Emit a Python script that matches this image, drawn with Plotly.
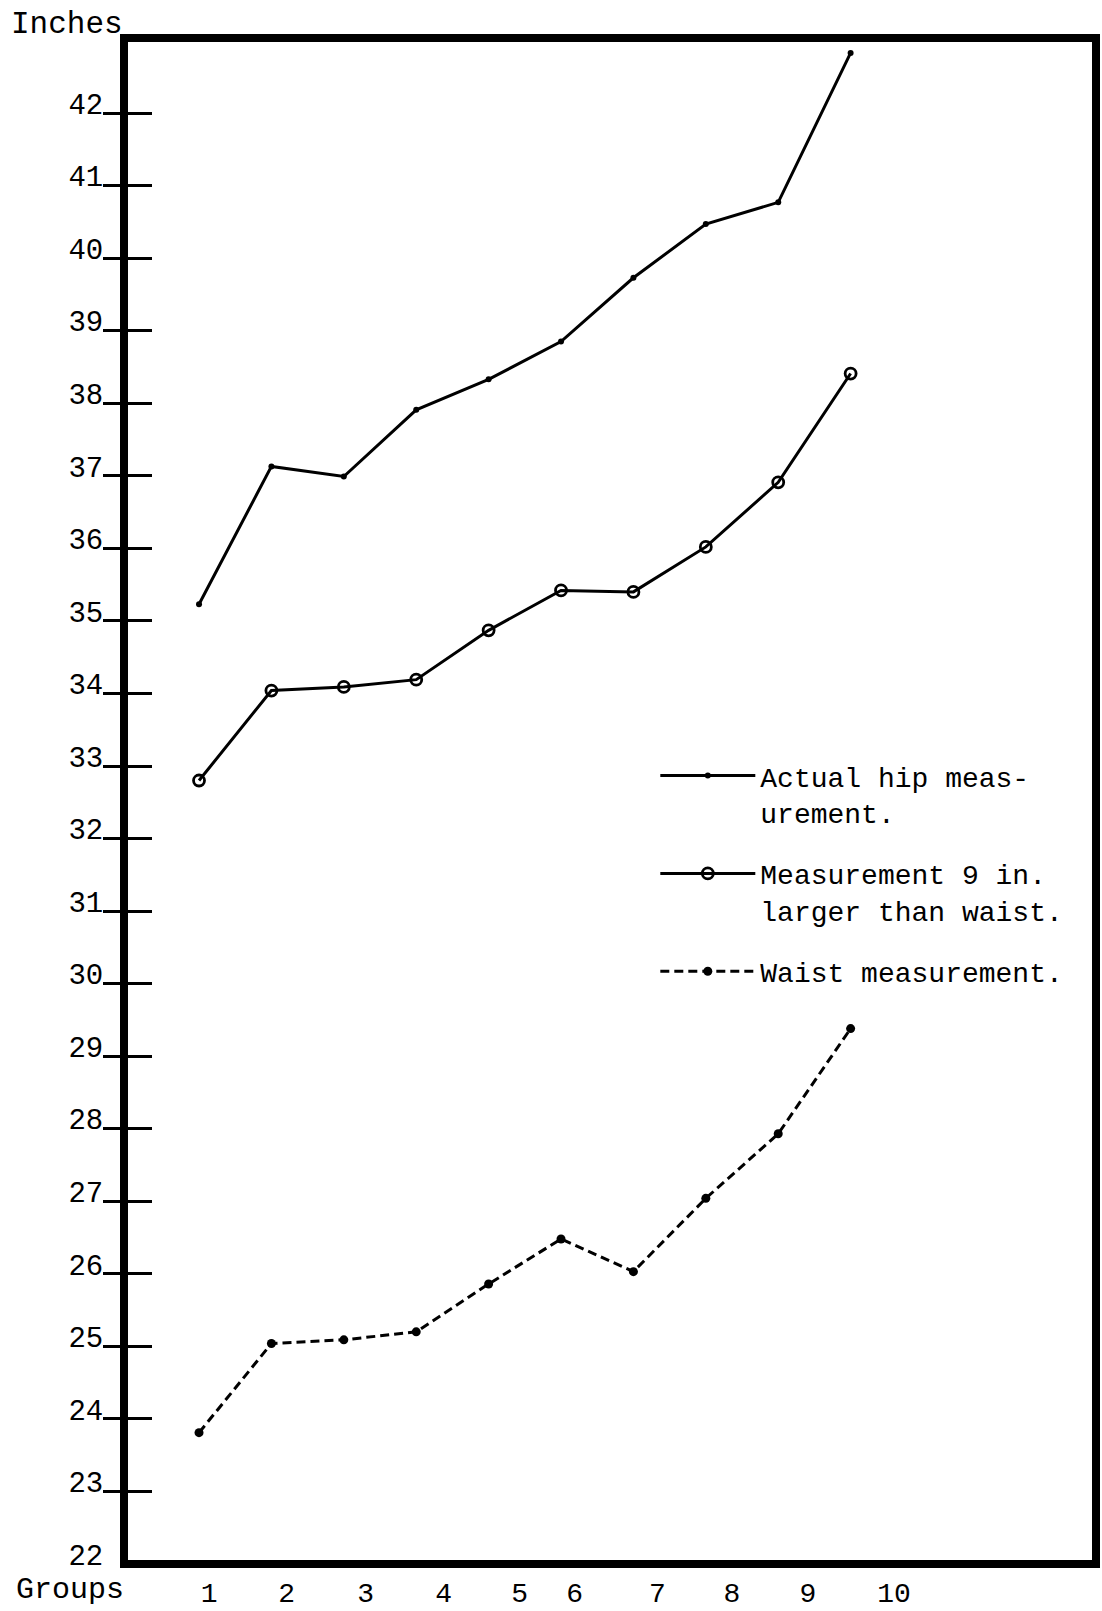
import plotly.graph_objects as go

# ---- data ----
groups = [1, 2, 3, 4, 5, 6, 7, 8, 9, 10]
hip_actual = [35.23, 37.13, 36.99, 37.91, 38.33, 38.85, 39.73, 40.47, 40.77, 42.83]
hip_nine_over_waist = [32.80, 34.04, 34.09, 34.19, 34.87, 35.42, 35.40, 36.02, 36.91, 38.41]
waist = [23.81, 25.04, 25.09, 25.20, 25.86, 26.48, 26.03, 27.04, 27.93, 29.38]

group_tick_labels = ["1", "2", "3", "4", "5", "6", "7", "8", "9", "10"]
# typewritten group numbers sit slightly off the plotted columns
group_tick_positions = [1.14, 2.21, 3.30, 4.38, 5.43, 6.19, 7.33, 8.36, 9.41, 10.60]
inch_ticks = list(range(22, 43))
inch_labels = [str(v) for v in inch_ticks]

names = [
    "Actual hip meas-<br>urement.",
    "Measurement 9 in.<br>larger than waist.",
    "Waist measurement.",
]

FONT = "Liberation Mono"
INK = "black"
LABEL_RAISE = 0.13  # typed numbers sit just above their tick marks

fig = go.Figure()
fig.add_trace(go.Scatter(
    x=groups, y=hip_actual, mode="lines+markers", name=names[0],
    line=dict(color=INK, width=3), marker=dict(size=6, color=INK),
    legendgroup="a"))
fig.add_trace(go.Scatter(
    x=groups, y=hip_nine_over_waist, mode="lines+markers", name=names[1],
    line=dict(color=INK, width=3),
    marker=dict(symbol="circle-open", size=11, color=INK, line=dict(width=2.8, color=INK)),
    legendgroup="b"))
fig.add_trace(go.Scatter(
    x=groups, y=waist, mode="lines+markers", name=names[2],
    line=dict(color=INK, width=3, dash="9px,5px"), marker=dict(size=9, color=INK),
    legendgroup="c"))
# empty helper traces so the tick-only overlay axes are drawn
fig.add_trace(go.Scatter(x=[], y=[], yaxis="y2", showlegend=False, hoverinfo="skip"))
fig.add_trace(go.Scatter(x=[], y=[], yaxis="y3", showlegend=False, hoverinfo="skip"))

yr = [22.055, 42.98]
fig.update_layout(
    width=1102, height=1611, autosize=False,
    margin=dict(l=128, r=10, t=42, b=51, autoexpand=False),
    paper_bgcolor="white", plot_bgcolor="white",
    font=dict(family=FONT, color=INK, size=28),
    showlegend=True,
    legend=dict(
        x=0.547, y=0.533, xanchor="left", yanchor="top",
        bgcolor="rgba(0,0,0,0)", font=dict(family=FONT, size=28, color=INK),
        itemwidth=95, tracegroupgap=22, valign="top",
    ),
    xaxis=dict(
        range=[0.019, 13.334], showgrid=False, zeroline=False, automargin=False,
        showline=True, mirror=True, linewidth=8, linecolor=INK,
        tickmode="array", tickvals=group_tick_positions, ticktext=group_tick_labels,
        ticks="", ticklabelstandoff=0, tickfont=dict(family=FONT, size=28, color=INK),
    ),
    yaxis=dict(
        range=yr, showgrid=False, zeroline=False, automargin=False,
        showline=True, mirror=True, linewidth=8, linecolor=INK,
        tickmode="array", tickvals=[v + LABEL_RAISE for v in inch_ticks],
        ticktext=inch_labels, ticks="", ticklabelstandoff=11,
        tickfont=dict(family=FONT, size=29, color=INK),
    ),
    yaxis2=dict(
        range=yr, overlaying="y", side="left", anchor="x", automargin=False,
        showgrid=False, zeroline=False, showline=False,
        tickmode="array", tickvals=inch_ticks[1:], ticks="outside",
        ticklen=24, tickwidth=3, tickcolor=INK, showticklabels=False,
    ),
    yaxis3=dict(
        range=yr, overlaying="y", side="left", anchor="x", automargin=False,
        showgrid=False, zeroline=False, showline=False,
        tickmode="array", tickvals=inch_ticks[1:], ticks="inside",
        ticklen=24, tickwidth=3, tickcolor=INK, showticklabels=False,
    ),
    annotations=[
        dict(text="Inches", xref="paper", yref="paper", x=0, y=1,
             xanchor="right", yanchor="bottom", xshift=-3, yshift=-2, showarrow=False,
             font=dict(family=FONT, size=31, color=INK)),
        dict(text="Groups", xref="paper", yref="paper", x=0, y=0,
             xanchor="right", yanchor="top", xshift=-2, yshift=-11, showarrow=False,
             font=dict(family=FONT, size=30, color=INK)),
    ],
)

fig.write_html(
    "out.html",
    config={"displayModeBar": False},
    post_script="document.body.style.margin='0px';document.body.style.overflow='hidden';",
)
